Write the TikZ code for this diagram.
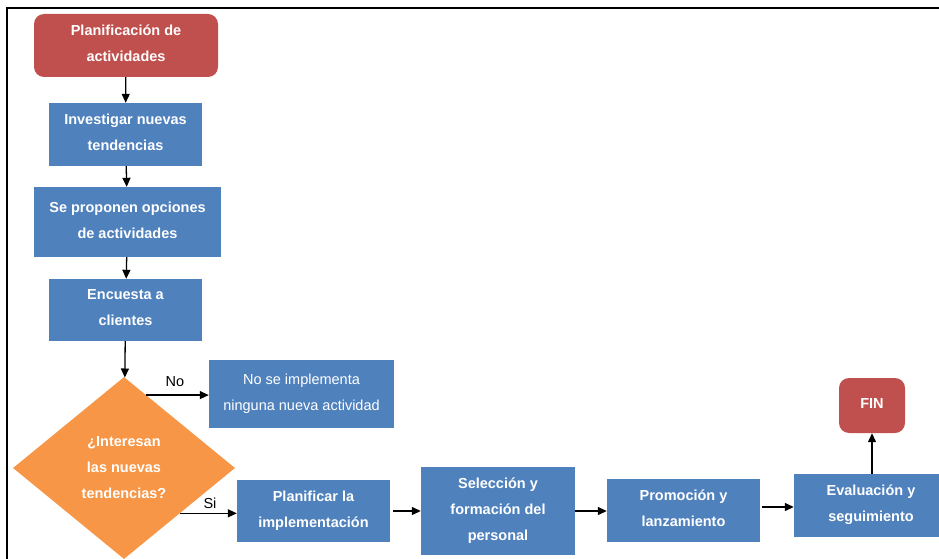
\documentclass[tikz,border=0pt]{standalone}
\usepackage{fontspec}
\setmainfont{Liberation Sans}
\usetikzlibrary{arrows.meta,shapes.geometric}
\definecolor{boxblue}{HTML}{4F81BD}
\definecolor{termred}{HTML}{C0504D}
\definecolor{decorange}{HTML}{F79646}
\begin{document}
\begin{tikzpicture}[x=1pt,y=-1pt,
  txt/.style={font=\fontsize{14.5}{26}\selectfont, align=center, inner sep=0pt},
  proc/.style={txt, fill=boxblue, text=white, text depth=4pt, font=\bfseries\fontsize{14.5}{26}\selectfont},
  plainproc/.style={txt, fill=boxblue, text=white, text depth=4pt},
  term/.style={proc, fill=termred, rounded corners=10pt},
  decision/.style={txt, diamond, fill=decorange, text=white, font=\bfseries\fontsize{14.5}{26}\selectfont},
  flow/.style={-{Triangle[length=9pt,width=8pt]}, line width=1.3pt},
  lbl/.style={txt, text=black}]
\useasboundingbox (0,0) rectangle (939,559);
\clip (0,0) rectangle (939,559);

% outer frame
\draw[line width=2pt] (7,560) -- (7,8) -- (940,8);

% vertical column
\node[term, minimum width=184pt, minimum height=63pt] (plan) at (126,45.5) {Planificación de\\actividades};
\node[proc, minimum width=153pt, minimum height=63pt] (inv) at (125.5,134.5) {Investigar nuevas\\tendencias};
\node[proc, minimum width=187pt, minimum height=70pt] (prop) at (127.5,222) {Se proponen opciones\\de actividades};
\node[proc, minimum width=153pt, minimum height=62pt] (enc) at (125.5,310) {Encuesta a\\clientes};
\node[decision, minimum width=222pt, minimum height=182pt, aspect=1.22] (dia) at (124,468) {¿Interesan\\las nuevas\\tendencias?};

% branch "No"
\node[plainproc, minimum width=185pt, minimum height=68pt] (no) at (301.5,394) {No se implementa\\ninguna nueva actividad};

% bottom row
\node[proc, minimum width=153pt, minimum height=62pt] (pimp) at (313.5,511) {Planificar la\\implementación};
\node[proc, minimum width=154pt, minimum height=88pt] (sel) at (498,511) {Selección y\\formación del\\personal};
\node[proc, minimum width=153pt, minimum height=63pt] (prom) at (683.5,510.5) {Promoción y\\lanzamiento};
\node[proc, minimum width=154pt, minimum height=63pt] (eval) at (871,505.5) {Evaluación y\\seguimiento};
\node[term, minimum width=66pt, minimum height=55pt] (fin) at (872,405.5) {FIN};

% connectors
\draw[flow] (plan) -- (inv);
\draw[flow] (inv) -- (prop);
\draw[flow] (prop) -- (enc);
\draw[flow] (enc) -- (dia);
\draw[flow] (dia.73) -- (dia.73 -| no.west);
\draw[flow] (dia.-39) -- (dia.-39 -| pimp.west);
\draw[flow, shorten <=3pt] (pimp) -- (sel);
\draw[flow] (sel.east) -- (sel.east -| prom.west);
\draw[flow, shorten <=2pt] (prom.east |- 0,507) -- (eval.west |- 0,507);
\draw[flow] (fin.south |- eval.north) -- (fin.south);

% branch labels
\node[lbl] (nolbl) at (175,382) {No};
\node[lbl] (silbl) at (210,503) {Si};
\end{tikzpicture}
\end{document}
